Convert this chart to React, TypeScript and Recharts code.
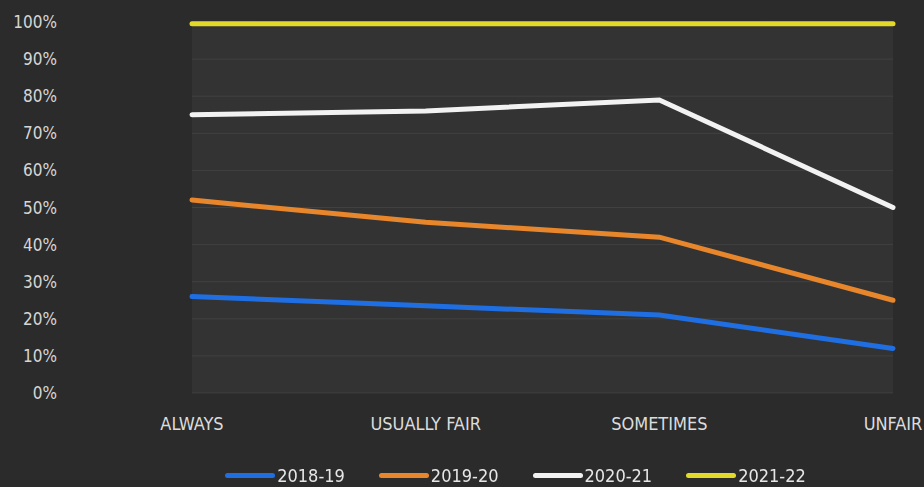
import { LineChart, Line, XAxis, YAxis, CartesianGrid, Legend } from 'recharts'

// Categorías del eje X
const categories = ['ALWAYS', 'USUALLY FAIR', 'SOMETIMES', 'UNFAIR']

// Porcentajes por año
const s2018 = [26, 23.5, 21, 12]
const s2019 = [52, 46, 42, 25]
const s2020 = [75, 76, 79, 50]
const s2021 = [99.5, 99.5, 99.5, 99.5]

const yTicks = [0, 10, 20, 30, 40, 50, 60, 70, 80, 90, 100]

const SERIES = [
  { key: '2018-19', values: s2018, color: '#1f6fe3' },
  { key: '2019-20', values: s2019, color: '#e8862c' },
  { key: '2020-21', values: s2020, color: '#f2f2f2' },
  { key: '2021-22', values: s2021, color: '#e2da2a' },
]

const data = categories.map((name, i) => {
  const row: Record<string, string | number> = { name }
  SERIES.forEach((s) => { row[s.key] = s.values[i] })
  return row
})

const FONT = '"DejaVu Sans Condensed", "Liberation Sans Narrow", sans-serif'

// Leyenda propia: línea gruesa + etiqueta
function ChalkLegend() {
  return (
    <div style={{ display: 'flex', justifyContent: 'center', gap: 34, fontFamily: FONT, fontSize: 18, color: '#e6e6e6', marginLeft: 130 }}>
      {SERIES.map((s) => (
        <div key={s.key} style={{ display: 'flex', alignItems: 'center' }}>
          <span style={{ display: 'inline-block', width: 50, height: 5, borderRadius: 3, background: s.color, marginRight: 2 }} />
          <span>{s.key}</span>
        </div>
      ))}
    </div>
  )
}

export default function App() {
  return (
    <div style={{ position: 'fixed', left: 0, top: 0, width: 924, height: 487, background: '#2b2b2b' }}>
      <LineChart width={924} height={487} data={data} margin={{ top: 22, right: 31, left: 8, bottom: 34 }}>
        <CartesianGrid vertical={false} stroke="rgba(255,255,255,0.07)" fill="#333333" />
        <XAxis
          dataKey="name"
          axisLine={false}
          tickLine={false}
          tickMargin={18}
          tick={{ fontSize: 18, fill: '#dcdcdc', fontFamily: FONT }}
          interval={0}
        />
        <YAxis
          domain={[0, 100]}
          ticks={yTicks}
          axisLine={false}
          tickLine={false}
          width={184}
          tickMargin={129}
          tickFormatter={(v) => `${v}%`}
          tick={{ fontSize: 17, fill: '#d6d6d6', fontFamily: FONT }}
        />
        <Legend verticalAlign="bottom" height={30} wrapperStyle={{ bottom: -8 }} content={() => <ChalkLegend />} />
        {SERIES.map((s) => (
          <Line
            key={s.key}
            type="linear"
            dataKey={s.key}
            stroke={s.color}
            strokeWidth={5}
            strokeLinecap="round"
            dot={false}
            isAnimationActive={false}
          />
        ))}
      </LineChart>
    </div>
  )
}
